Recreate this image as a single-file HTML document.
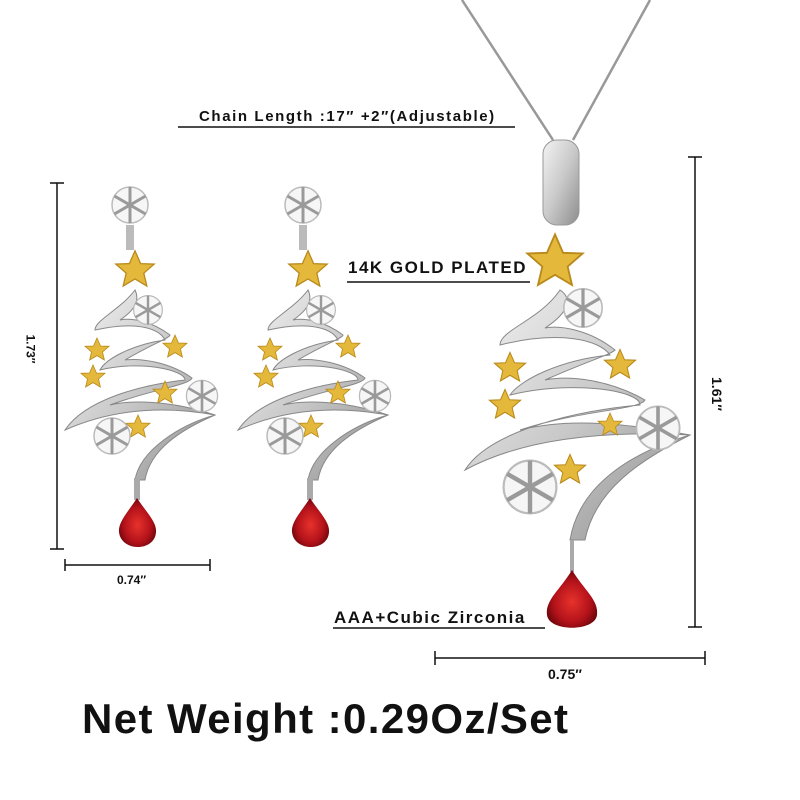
<!DOCTYPE html>
<html><head><meta charset="utf-8"><style>
html,body{margin:0;padding:0;background:#fff;}
body{width:800px;height:800px;overflow:hidden;position:relative;font-family:"Liberation Sans",sans-serif;}
.t{position:absolute;color:#111;font-weight:bold;white-space:nowrap;}
</style></head><body>
<svg width="800" height="800" style="position:absolute;left:0;top:0">
<defs>
<linearGradient id="sil" x1="0" y1="0" x2="1" y2="1"><stop offset="0" stop-color="#f4f4f4"/><stop offset="0.5" stop-color="#c9c9c9"/><stop offset="1" stop-color="#8d8d8d"/></linearGradient>
<radialGradient id="gem" cx="0.5" cy="0.55" r="0.6"><stop offset="0" stop-color="#e8322c"/><stop offset="0.6" stop-color="#b3121a"/><stop offset="1" stop-color="#5a0308"/></radialGradient>
<g id="star"><polygon points="0,-12 3.5,-4 12,-3.7 5.5,2 7.4,10 0,5.6 -7.4,10 -5.5,2 -12,-3.7 -3.5,-4" fill="#e4b83a" stroke="#b8891b" stroke-width="0.8"/></g>
<g id="flake" stroke="#9a9a9a" stroke-width="2" fill="none"><circle r="12" fill="#f6f6f6" stroke="#bbb" stroke-width="1"/><line x1="0" y1="-12" x2="0" y2="12"/><line x1="-10.4" y1="-6" x2="10.4" y2="6"/><line x1="-10.4" y1="6" x2="10.4" y2="-6"/></g>
</defs>
<line x1="462" y1="0" x2="553" y2="140" stroke="#999" stroke-width="2.5"/>
<line x1="650" y1="0" x2="573" y2="140" stroke="#999" stroke-width="2.5"/>
<g stroke="#111" stroke-width="1.5">
<line x1="178" y1="127" x2="515" y2="127"/>
<line x1="347" y1="282" x2="530" y2="282"/>
<line x1="333" y1="628" x2="545" y2="628"/>
<line x1="57" y1="183" x2="57" y2="549"/><line x1="50" y1="183" x2="64" y2="183"/><line x1="50" y1="549" x2="64" y2="549"/>
<line x1="65" y1="565" x2="210" y2="565"/><line x1="65" y1="559" x2="65" y2="571"/><line x1="210" y1="559" x2="210" y2="571"/>
<line x1="695" y1="157" x2="695" y2="627"/><line x1="688" y1="157" x2="702" y2="157"/><line x1="688" y1="627" x2="702" y2="627"/>
<line x1="435" y1="658" x2="705" y2="658"/><line x1="435" y1="651" x2="435" y2="665"/><line x1="705" y1="651" x2="705" y2="665"/>
</g>
<rect x="543" y="140" width="36" height="85" rx="14" fill="url(#sil)" stroke="#999"/>
<g fill="url(#sil)" stroke="#888" stroke-width="1">
<path d="M560 290 C540 320 500 330 500 345 C560 330 600 340 610 355 C560 360 520 380 510 395 C570 380 640 390 640 405 C580 410 490 430 465 470 C520 440 600 430 690 435 C640 450 580 480 570 540 L585 540 C595 490 640 460 690 435 C610 420 560 420 520 430 C580 410 640 410 645 400 C610 380 570 375 545 380 C590 360 610 355 615 350 C590 330 560 325 545 328 C565 315 575 300 560 290 Z"/>
</g>
<use href="#star" transform="translate(555 262) scale(2.3)"/>
<use href="#star" transform="translate(510 368) scale(1.3)"/>
<use href="#star" transform="translate(620 365) scale(1.3)"/>
<use href="#star" transform="translate(505 405) scale(1.3)"/>
<use href="#star" transform="translate(610 425)"/>
<use href="#star" transform="translate(570 470) scale(1.3)"/>
<use href="#flake" transform="translate(583 308) scale(1.6)"/>
<use href="#flake" transform="translate(658 428) scale(1.8)"/>
<use href="#flake" transform="translate(530 487) scale(2.2)"/>
<line x1="572" y1="540" x2="572" y2="572" stroke="#aaa" stroke-width="4"/>
<path d="M572 570 C560 590 545 600 547 615 C549 632 595 632 597 615 C599 600 584 590 572 570 Z" fill="url(#gem)"/>
<g id="ear">
<use href="#flake" transform="translate(130 205) scale(1.5)"/>
<rect x="126" y="225" width="8" height="25" fill="#bbb"/>
<use href="#star" transform="translate(135 270) scale(1.6)"/>
<path d="M135 290 C120 310 95 320 95 330 C140 320 160 330 165 340 C130 345 105 360 100 370 C140 360 185 370 185 380 C140 385 85 400 65 430 C110 410 160 405 215 415 C180 425 140 450 135 480 L145 480 C150 450 180 430 215 415 C170 400 130 400 110 405 C150 390 190 385 192 378 C170 362 140 358 125 360 C150 345 170 338 170 335 C150 320 130 318 120 320 C135 310 140 300 135 290 Z" fill="url(#sil)" stroke="#888"/>
<use href="#star" transform="translate(97 350)"/><use href="#star" transform="translate(175 347)"/><use href="#star" transform="translate(93 377)"/><use href="#star" transform="translate(165 393)"/><use href="#star" transform="translate(138 427)"/>
<use href="#flake" transform="translate(148 310) scale(1.2)"/>
<use href="#flake" transform="translate(202 396) scale(1.3)"/>
<use href="#flake" transform="translate(112 436) scale(1.5)"/>
<rect x="134" y="478" width="6" height="22" fill="#aaa"/>
<path d="M137 498 C128 512 118 522 119 532 C121 552 155 552 156 532 C157 522 146 512 137 498 Z" fill="url(#gem)"/>
</g>
<use href="#ear" x="173" y="0"/>
</svg>
<div class="t" style="left:199px;top:108px;font-size:15px;letter-spacing:1.6px">Chain Length :17″ +2″(Adjustable)</div>
<div class="t" style="left:348px;top:258px;font-size:17px;letter-spacing:1.5px">14K GOLD PLATED</div>
<div class="t" style="left:334px;top:608px;font-size:17px;letter-spacing:1.5px">AAA+Cubic Zirconia</div>
<div class="t" style="left:16px;top:342px;font-size:12px;transform:rotate(90deg)">1.73″</div>
<div class="t" style="left:117px;top:573px;font-size:12px">0.74″</div>
<div class="t" style="left:700px;top:386px;font-size:14px;transform:rotate(90deg)">1.61″</div>
<div class="t" style="left:548px;top:666px;font-size:14px">0.75″</div>
<div class="t" style="left:82px;top:695px;font-size:42px;letter-spacing:1.4px">Net Weight :0.29Oz/Set</div>
</body></html>
